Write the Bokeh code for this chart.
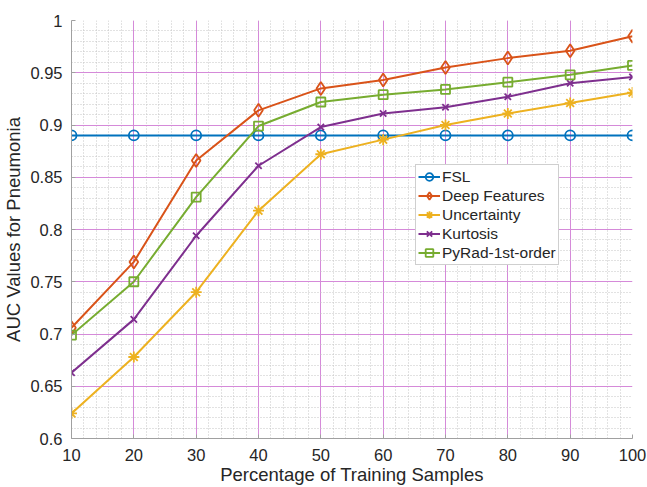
from bokeh.plotting import figure
from bokeh.models import Range1d, FixedTicker, CustomJSTickFormatter, Legend, LegendItem
from bokeh.embed import file_html
from bokeh.resources import INLINE

# ---- data ----
x_pct = [10, 20, 30, 40, 50, 60, 70, 80, 90, 100]
fsl = [0.890, 0.890, 0.890, 0.890, 0.890, 0.890, 0.890, 0.890, 0.890, 0.890]
deep_features = [0.706, 0.769, 0.866, 0.914, 0.935, 0.943, 0.955, 0.964, 0.971, 0.985]
uncertainty = [0.624, 0.678, 0.740, 0.818, 0.872, 0.886, 0.900, 0.911, 0.921, 0.931]
kurtosis = [0.663, 0.714, 0.794, 0.861, 0.898, 0.911, 0.917, 0.927, 0.940, 0.946]
pyrad = [0.699, 0.750, 0.831, 0.899, 0.922, 0.929, 0.934, 0.941, 0.948, 0.957]

series_names = ["FSL", "Deep Features", "Uncertainty", "Kurtosis", "PyRad-1st-order"]
x_ticks = [10, 20, 30, 40, 50, 60, 70, 80, 90, 100]
x_minor = [v for v in range(10, 101, 2)]
y_ticks = [0.6, 0.65, 0.7, 0.75, 0.8, 0.85, 0.9, 0.95, 1.0]
y_minor = [round(0.6 + 0.01 * i, 2) for i in range(41)]

colors = ["#0072BD", "#D95319", "#EDB120", "#7E2F8E", "#77AC30"]
markers = ["circle", "diamond", "asterisk", "x", "square"]
msizes = [10, 13, 11, 9, 9]

FONT = "Liberation Sans"

p = figure(width=647, height=487, output_backend="svg", toolbar_location=None,
           x_range=Range1d(10, 100), y_range=Range1d(0.6, 1.0),
           min_border_left=71, min_border_right=15, min_border_top=20, min_border_bottom=48)
p.outline_line_color = None
p.background_fill_color = "white"
p.border_fill_color = "white"

p.xaxis.ticker = FixedTicker(ticks=x_ticks, minor_ticks=x_minor)
p.yaxis.ticker = FixedTicker(ticks=y_ticks, minor_ticks=y_minor)
p.yaxis.formatter = CustomJSTickFormatter(code="return Number(tick.toFixed(2)).toString();")

for ax in (p.xaxis, p.yaxis):
    ax.axis_line_color = "#a0a0a0"
    ax.major_tick_line_color = "#a0a0a0"
    ax.major_tick_in = 4
    ax.major_tick_out = 0
    ax.minor_tick_line_color = None
    ax.major_label_text_font = FONT
    ax.major_label_text_font_size = "16.5px"
    ax.major_label_text_color = "#262626"
    ax.axis_label_text_font = FONT
    ax.axis_label_text_font_size = "18.5px"
    ax.axis_label_text_font_style = "normal"
    ax.axis_label_text_color = "#262626"

p.xaxis.axis_label = "Percentage of Training Samples"
p.yaxis.axis_label = "AUC Values for Pneumonia"
p.xaxis.major_label_standoff = 6
p.xaxis.axis_label_standoff = 0
p.yaxis.major_label_standoff = 5
p.yaxis.axis_label_standoff = 3

for g in (p.xgrid, p.ygrid):
    g.grid_line_color = "#d58ad9"
    g.grid_line_width = 1
    g.minor_grid_line_color = "#c4c4c4"
    g.minor_grid_line_dash = "1 2"
    g.minor_grid_line_width = 1
p.xgrid.ticker = p.xaxis.ticker
p.ygrid.ticker = p.yaxis.ticker

all_series = [fsl, deep_features, uncertainty, kurtosis, pyrad]
items = []
for name, ys, c, m, s in zip(series_names, all_series, colors, markers, msizes):
    ln = p.line(x_pct, ys, line_color=c, line_width=2)
    sc = p.scatter(x_pct, ys, marker=m, size=s, line_color=c, fill_color=None, line_width=1.8)
    items.append(LegendItem(label=name, renderers=[ln, sc]))

legend = Legend(items=items, location=(344, 173))
legend.label_text_font = FONT
legend.label_text_font_size = "15.5px"
legend.label_text_color = "#262626"
legend.glyph_width = 22
legend.glyph_height = 19
legend.label_height = 19
legend.spacing = 0
legend.padding = 2
legend.margin = 0
legend.label_standoff = 2
legend.border_line_color = "#a0a0a0"
legend.border_line_width = 1
legend.background_fill_color = "white"
legend.background_fill_alpha = 1.0
p.add_layout(legend, "center")

open("out.html", "w").write(file_html(p, INLINE))
